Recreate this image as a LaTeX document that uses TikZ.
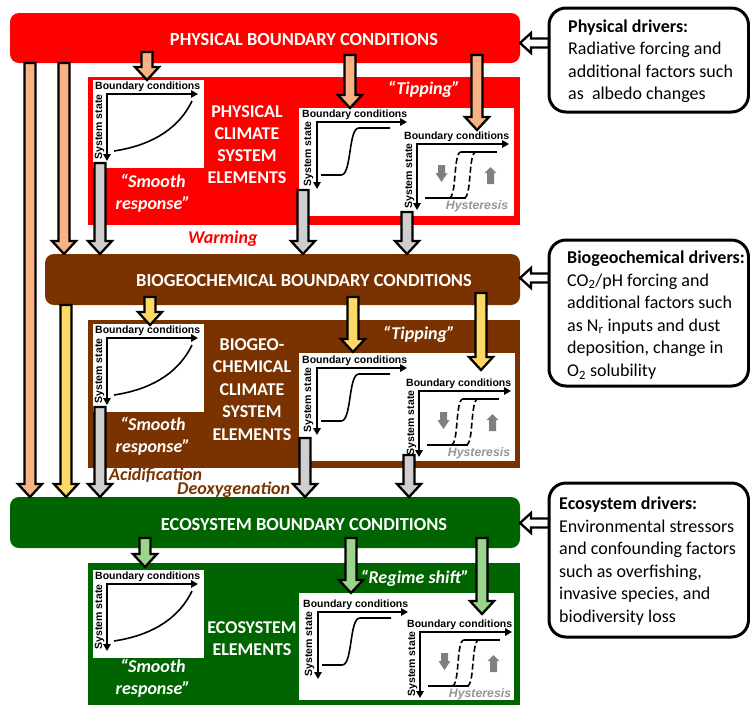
\documentclass[tikz,border=0pt]{standalone}
\usepackage{fontspec}
\setmainfont{Carlito}
\newfontfamily\plotfont{Liberation Sans}
\usetikzlibrary{arrows.meta}
\definecolor{physred}{RGB}{255,0,0}
\definecolor{biobrown}{RGB}{122,51,0}
\definecolor{ecogreen}{RGB}{0,100,0}
\definecolor{salmon}{RGB}{248,178,132}
\definecolor{yellowar}{RGB}{255,217,102}
\definecolor{greyar}{RGB}{208,206,206}
\definecolor{greenar}{RGB}{155,213,140}
\definecolor{hystgrey}{RGB}{128,128,128}
\definecolor{hysttext}{RGB}{150,150,150}
\newcommand{\dnarrow}[4]{\draw[blockarrow,fill=#1] (#2-5.5,#3) -- (#2+5.5,#3) -- (#2+5.5,#4-13) -- (#2+12,#4-13) -- (#2,#4) -- (#2-12,#4-13) -- (#2-5.5,#4-13) -- cycle;}
\newcommand{\lfarrow}[1]{\draw[hollowarrow] (520,#1) -- (531,#1-10) -- (531,#1-4.5) -- (549,#1-4.5) -- (549,#1+4.5) -- (531,#1+4.5) -- (531,#1+10) -- cycle;}
\tikzset{
  barlab/.style={font=\fontsize{18.4}{22}\selectfont\bfseries, text=white, inner sep=0, anchor=base},
  elemlab/.style={font=\fontsize{18}{22}\selectfont\bfseries, text=white, align=center, inner sep=0, anchor=north},
  smoothlab/.style={font=\fontsize{18}{21.5}\selectfont\bfseries\itshape, text=white, align=center, inner sep=0, anchor=north},
  tiplab/.style={font=\fontsize{18}{22}\selectfont\bfseries\itshape, text=white, inner sep=0, anchor=base},
  proclab/.style={font=\fontsize{18}{22}\selectfont\bfseries\itshape, inner sep=0, anchor=base west},
  plotlab/.style={font=\plotfont\bfseries\fontsize{10.5}{12}\selectfont, inner sep=0},
  hystlab/.style={font=\plotfont\bfseries\itshape\fontsize{12.3}{14}\selectfont, text=hysttext, inner sep=0, anchor=base},
  axis/.style={line width=1.6pt, -{Triangle[length=7pt,width=7.5pt]}},
  curve/.style={line width=1.6pt},
  blockarrow/.style={line width=2.3pt, draw=black, line join=miter},
  hollowarrow/.style={line width=2.3pt, draw=black, fill=white, line join=miter},
  driverbox/.style={draw=black, line width=3pt, rounded corners=17pt, fill=white},
  drivertext/.style={font=\fontsize{18}{22.6}\selectfont, align=left, inner sep=0, anchor=north west},
  smoothplot/.pic={
    \fill[white] (-14,-14) rectangle (97,74);
    \node[plotlab,anchor=base west] (-bc) at (-12,-5) {Boundary conditions};
    \node[plotlab,rotate=90,anchor=base] (-ss) at (-5,33) {System state};
    \draw[axis] (0,0) -- (91,0);
    \draw[axis] (0,-0.8) -- (0,67);
    \draw[curve] (7,57) .. controls (40,52) and (70,38) .. (85,7);
  },
  tipplot/.pic={
    \node[plotlab,anchor=base west] (-bc) at (-15,-5) {Boundary conditions};
    \node[plotlab,rotate=90,anchor=base] (-ss) at (-6,32) {System state};
    \draw[axis] (0,0) -- (90,0);
    \draw[axis] (0,-0.8) -- (0,67);
    \draw[curve] (4,53) -- (24,53) .. controls (35,53) and (31,6) .. (42,6) -- (73,6);
  },
  hystplot/.pic={
    \node[plotlab,anchor=base west] (-bc) at (-13,-5) {Boundary conditions};
    \node[plotlab,rotate=90,anchor=base] (-ss) at (-5,32) {System state};
    \draw[axis] (0,0) -- (92,0);
    \draw[axis] (0,-0.8) -- (0,66);
    \draw[curve] (8,54) -- (49,54);
    \draw[curve] (44,8) -- (80,8);
    \draw[curve,dash pattern=on 6pt off 3pt] (32,54) .. controls (40,54) and (36,8) .. (44,8);
    \draw[curve,dash pattern=on 6pt off 3pt] (47,54) .. controls (55,54) and (51,8) .. (59,8);
    \fill[hystgrey] (21,21) -- (28,21) -- (28,29) -- (30.5,29) -- (24.5,38) -- (18.5,29) -- (21,29) -- cycle;
    \fill[hystgrey] (70,40) -- (77,40) -- (77,29) -- (79.5,29) -- (73.5,23) -- (67.5,29) -- (70,29) -- cycle;
    \node[hystlab] (-hy) at (60,65) {Hysteresis};
  }
}
\begin{document}
\begin{tikzpicture}[x=1pt,y=-1pt]
\useasboundingbox (0,0) rectangle (750,705);
\fill[white] (0,0) rectangle (750,705);

% ---------- bars and element boxes ----------
\fill[physred, rounded corners=9pt] (10,13) rectangle (520,63);
\fill[physred] (88,77) rectangle (520,225);
\fill[biobrown, rounded corners=9pt] (45,254) rectangle (520,305);
\fill[biobrown] (88,320) rectangle (520,468);
\fill[ecogreen, rounded corners=9pt] (10,497) rectangle (520,548);
\fill[ecogreen] (88,563) rectangle (520,705);

\node[barlab] (physbar) at (304,45) {PHYSICAL BOUNDARY CONDITIONS};
\node[barlab] (biobar) at (304,286) {BIOGEOCHEMICAL BOUNDARY CONDITIONS};
\node[barlab] (ecobar) at (304,530) {ECOSYSTEM BOUNDARY CONDITIONS};

% ---------- physical elements ----------
\pic (ps) at (107,94) {smoothplot};
\fill[white] (299,108) rectangle (514,216);
\pic (pt) at (317,122) {tipplot};
\pic (ph) at (417,144) {hystplot};
\node[elemlab] (physel) at (247,105.4) {PHYSICAL\\CLIMATE\\SYSTEM\\ELEMENTS};
\node[smoothlab] (physsm) at (153,174.5) {“Smooth\\response”};
\node[tiplab] (phystip) at (424,94) {“Tipping”};
\node[proclab, text=physred] (warm) at (188,243) {Warming};

% ---------- biogeochemical elements ----------
\pic (bs) at (107,338) {smoothplot};
\fill[white] (299,353) rectangle (515,461);
\pic (bt) at (317,368) {tipplot};
\pic (bh) at (419,391) {hystplot};
\node[elemlab, font=\fontsize{18}{22.5}\selectfont\bfseries] (bioel) at (252,338.4) {BIOGEO-\\CHEMICAL\\CLIMATE\\SYSTEM\\ELEMENTS};
\node[smoothlab] (biosm) at (153,417.5) {“Smooth\\response”};
\node[tiplab] (biotip) at (419,339) {“Tipping”};
\node[proclab, text=biobrown] (acid) at (109,480) {Acidification};
\node[proclab, text=biobrown] (deox) at (177,494) {Deoxygenation};

% ---------- ecosystem elements ----------
\pic (es) at (107,584) {smoothplot};
\fill[white] (299,593) rectangle (514,700);
\pic (et) at (318,612) {tipplot};
\pic (eh) at (420,632) {hystplot};
\node[elemlab] (ecoel) at (252,621.4) {ECOSYSTEM\\ELEMENTS};
\node[smoothlab] (ecosm) at (153,659.5) {“Smooth\\response”};
\node[tiplab] (ecotip) at (415,583) {“Regime shift”};

% ---------- block arrows ----------
\dnarrow{salmon}{30}{63}{497}
\dnarrow{salmon}{64}{63}{254}
\dnarrow{greyar}{100}{163}{254}
\dnarrow{greyar}{303}{190}{254}
\dnarrow{greyar}{407}{212}{254}
\dnarrow{salmon}{147}{52}{80}
\dnarrow{salmon}{350}{55}{108}
\dnarrow{salmon}{477}{55}{130}

\dnarrow{yellowar}{66}{305}{497}
\dnarrow{greyar}{100}{407}{497}
\dnarrow{greyar}{305}{438}{497}
\dnarrow{greyar}{409}{455}{497}
\dnarrow{yellowar}{150}{297}{325}
\dnarrow{yellowar}{353}{297}{352}
\dnarrow{yellowar}{481}{293}{370}

\dnarrow{greenar}{145}{538}{567}
\dnarrow{greenar}{351}{538}{593}
\dnarrow{greenar}{482}{538}{614}

% ---------- drivers ----------
\lfarrow{43}
\lfarrow{278}
\lfarrow{523}
\draw[driverbox] (549,8) rectangle (748.5,112);
\draw[driverbox] (549,240) rectangle (748.5,386);
\draw[driverbox] (549,483) rectangle (748.5,637);
\node[drivertext] (physdr) at (568,19.3) {\textbf{Physical drivers:}\\Radiative forcing and\\additional factors such\\as\ \ albedo changes};
\node[drivertext] (biodr) at (567,250.6) {\textbf{Biogeochemical drivers:}\\CO\textsubscript{2}/pH forcing and\\additional factors such\\as N\textsubscript{r} inputs and dust\\deposition, change in\\O\textsubscript{2} solubility};
\node[drivertext] (ecodr) at (559,496.6) {\textbf{Ecosystem drivers:}\\Environmental stressors\\and confounding factors\\such as overfishing,\\invasive species, and\\biodiversity loss};
\end{tikzpicture}
\end{document}
